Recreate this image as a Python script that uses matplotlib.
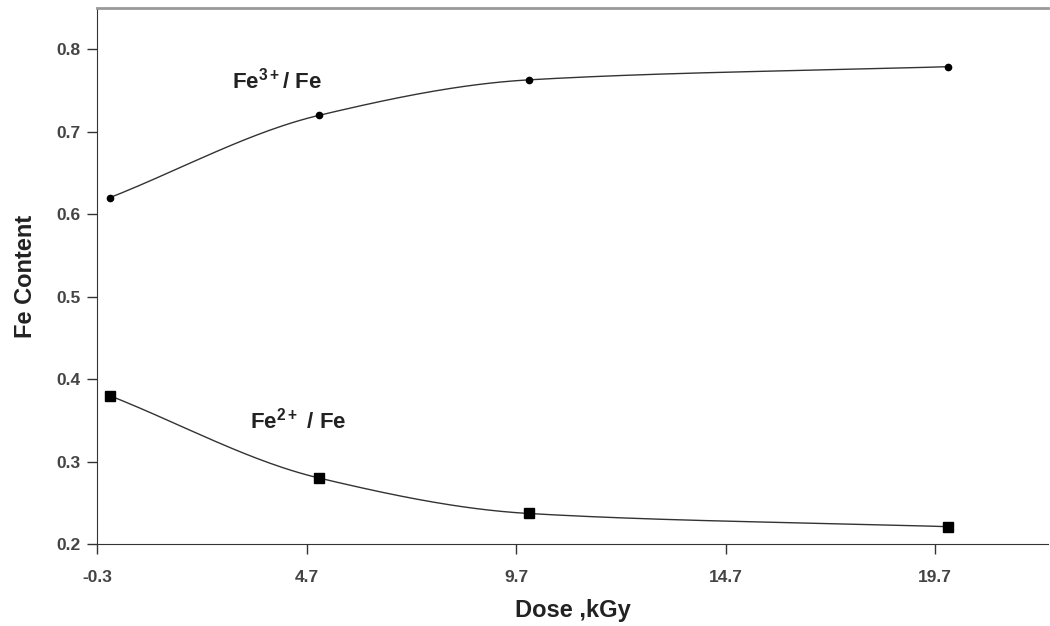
import numpy as np
import matplotlib.pyplot as plt

dose = [0, 5, 10, 20]
fe3_ratio = [0.620, 0.720, 0.763, 0.779]
fe2_ratio = [0.380, 0.280, 0.237, 0.221]
x_ticks = [-0.3, 4.7, 9.7, 14.7, 19.7]
y_ticks = [0.2, 0.3, 0.4, 0.5, 0.6, 0.7, 0.8]


def smooth_curve(x, y, n=200):
    # monotone cubic hermite (Fritsch-Carlson) for the drawn line
    x = np.asarray(x, dtype=float)
    y = np.asarray(y, dtype=float)
    h = np.diff(x)
    d = np.diff(y) / h
    m = np.zeros_like(y)
    m[0], m[-1] = d[0], d[-1]
    for i in range(1, len(x) - 1):
        if d[i - 1] * d[i] > 0:
            w1 = 2 * h[i] + h[i - 1]
            w2 = h[i] + 2 * h[i - 1]
            m[i] = (w1 + w2) / (w1 / d[i - 1] + w2 / d[i])
    xs = np.linspace(x[0], x[-1], n)
    idx = np.clip(np.searchsorted(x, xs) - 1, 0, len(x) - 2)
    t = (xs - x[idx]) / h[idx]
    h00 = 2 * t**3 - 3 * t**2 + 1
    h10 = t**3 - 2 * t**2 + t
    h01 = -2 * t**3 + 3 * t**2
    h11 = t**3 - t**2
    ys = h00 * y[idx] + h10 * h[idx] * m[idx] + h01 * y[idx + 1] + h11 * h[idx] * m[idx + 1]
    return xs, ys


plt.rcParams['font.family'] = ['Liberation Sans', 'DejaVu Sans']
plt.rcParams['mathtext.fontset'] = 'custom'
plt.rcParams['mathtext.rm'] = 'Liberation Sans:bold'
plt.rcParams['mathtext.bf'] = 'Liberation Sans:bold'

fig = plt.figure(figsize=(10.5, 6.26), dpi=100)
ax = fig.add_axes([0.0924, 0.131, 0.906, 0.856])

for vals, marker, size in [(fe3_ratio, 'o', 4.5), (fe2_ratio, 's', 7)]:
    xs, ys = smooth_curve(dose, vals)
    ax.plot(xs, ys, color='#333333', lw=1.0)
    ax.plot(dose, vals, linestyle='none', marker=marker, markersize=size,
            color='black')

ax.text(4.0, 0.762, r'Fe$^{\mathbf{3+}}$/ Fe', fontsize=16, fontweight='bold',
        ha='center', va='center', color='#222222')
ax.text(4.5, 0.350, r'Fe$^{\mathbf{2+}}$ / Fe', fontsize=16, fontweight='bold',
        ha='center', va='center', color='#222222')

ax.set_xlim(-0.3, 22.4)
ax.set_ylim(0.2, 0.85)
ax.set_xticks(x_ticks)
ax.set_xticklabels([str(v) for v in x_ticks])
ax.set_yticks(y_ticks)
ax.set_yticklabels([f'{v:.1f}' for v in y_ticks])

ax.tick_params(direction='out', length=7, width=1, colors='#333333',
               labelsize=12.5)
ax.tick_params(axis='x', pad=12)
ax.tick_params(axis='y', pad=5)
for lbl in ax.get_xticklabels() + ax.get_yticklabels():
    lbl.set_fontweight('bold')
    lbl.set_color('#444444')

ax.spines['right'].set_visible(False)
ax.spines['top'].set_color('#999999')
ax.spines['top'].set_linewidth(2)
ax.spines['left'].set_color('#333333')
ax.spines['bottom'].set_color('#333333')

ax.set_xlabel('Dose ,kGy', fontsize=17, fontweight='bold', color='#222222',
              labelpad=10)
ax.set_ylabel('Fe Content', fontsize=17, fontweight='bold', color='#222222',
              labelpad=14)

fig.savefig('out.png', dpi=100)
